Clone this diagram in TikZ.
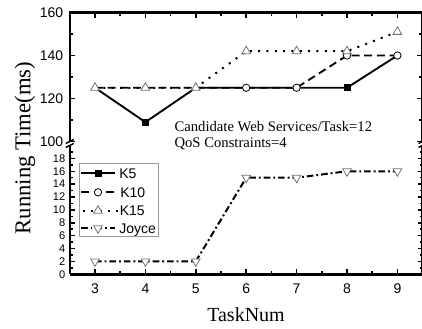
\documentclass[tikz,border=0pt]{standalone}
\usepackage{fontspec}
\setmainfont{Liberation Serif}
\setsansfont{Liberation Sans}
\usetikzlibrary{shapes.geometric}

\begin{document}
\begin{tikzpicture}[x=0.75pt,y=-0.75pt,
  axisline/.style={line width=1.7pt},
  tickmark/.style={line width=1.1pt},
  ticklab/.style={font=\sffamily\fontsize{10.5}{12}\selectfont, inner sep=0pt},
  smalllab/.style={font=\sffamily\fontsize{8.3}{8.3}\selectfont, inner sep=0pt, anchor=east},
  legtext/.style={font=\sffamily\fontsize{10.5}{12}\selectfont, inner sep=0pt, anchor=base west},
  note/.style={font=\fontsize{11}{13}\selectfont, inner sep=0pt, anchor=base west},
  k5line/.style={line width=1.4pt},
  k10line/.style={line width=1.4pt, dash pattern=on 6pt off 3.5pt},
  k15line/.style={line width=1.5pt, dash pattern=on 1.5pt off 4.75pt},
  joyceline/.style={line width=1.5pt, dash pattern=on 5pt off 2.2pt on 1.4pt off 2.2pt},
  sqmark/.style={rectangle, fill=black, minimum size=5.25pt, inner sep=0pt},
  circmark/.style={circle, draw=black, fill=white, line width=0.6pt, minimum size=5.5pt, inner sep=0pt},
  upmark/.style={regular polygon, regular polygon sides=3, draw=black!55, fill=white, line width=0.6pt, minimum size=7.5pt, inner sep=0pt},
  downmark/.style={upmark, shape border rotate=180},
]
\useasboundingbox (0,0) rectangle (422,329);

% ---------- frame (broken y axis) ----------
\draw[axisline, line width=2pt] (69.8,274.3) -- (422.6,274.3);
\draw[axisline] (69.8,274.3) -- (69.8,145.5);
\draw[axisline] (69.8,141.5) -- (69.8,12.5) -- (422.6,12.5) -- (422.6,141.5);
\draw[axisline] (422.6,145.5) -- (422.6,274.3);
% break marks
\foreach \bx in {69.8,422.6}{
  \draw[line width=1.1pt] (\bx-4,143.5) -- (\bx+4,139.5);
  \draw[line width=1.1pt] (\bx-4,147.5) -- (\bx+4,143.5);
}

% ---------- x ticks ----------
\foreach \t in {3,...,9}{
  \draw[tickmark] ({-56.2+50.4*\t},274.3) -- ++(0,-5.5);
  \draw[tickmark] ({-56.2+50.4*\t},12.5) -- ++(0,5.5);
  \node[ticklab] (xt\t) at ({-56.2+50.4*\t},288.3) {\t};
}
\foreach \t in {3.5,4.5,...,8.5}{
  \draw[tickmark] ({-56.2+50.4*\t},274.3) -- ++(0,-3);
  \draw[tickmark] ({-56.2+50.4*\t},12.5) -- ++(0,3);
}

% ---------- upper y ticks (100..160) ----------
\foreach \v in {100,120,140,160}{
  \draw[tickmark] (69.8,{356.5-2.15*\v}) -- ++(5.5,0);
  \draw[tickmark] (422.6,{356.5-2.15*\v}) -- ++(-5.5,0);
  \node[ticklab, anchor=east] (yu\v) at (63.5,{356.5-2.15*\v}) {\v};
}
\foreach \v in {110,130,150}{
  \draw[tickmark] (69.8,{356.5-2.15*\v}) -- ++(3.5,0);
  \draw[tickmark] (422.6,{356.5-2.15*\v}) -- ++(-3.5,0);
}

% ---------- lower y ticks (0..18) ----------
\foreach \v in {0,2,...,18}{
  \draw[tickmark] (69.8,{274.3-6.44*\v}) -- ++(5,0);
  \draw[tickmark] (422.6,{274.3-6.44*\v}) -- ++(-5,0);
  \node[smalllab] (yl\v) at (65.5,{274.3-6.44*\v}) {\v};
}
\foreach \v in {1,3,...,19}{
  \draw[tickmark] (69.8,{274.3-6.44*\v}) -- ++(3,0);
  \draw[tickmark] (422.6,{274.3-6.44*\v}) -- ++(-3,0);
}

% ---------- upper panel data ----------
\begin{scope}[x=37.8pt, y=1.6125pt, xshift=-42.15pt, yshift=-267.375pt]
  \foreach \t/\v in {3/125,4/109,5/125,6/125,7/125,8/125,9/140}
    \coordinate (k5-\t) at (\t,\v);
  \foreach \t/\v in {3/125,4/125,5/125,6/125,7/125,8/140,9/140}
    \coordinate (k10-\t) at (\t,\v);
  \foreach \t/\v in {3/125,4/125,5/125,6/142,7/142,8/142,9/151}
    \coordinate (k15-\t) at (\t,\v);
\end{scope}

% ---------- lower panel data ----------
\begin{scope}[x=37.8pt, y=4.83pt, xshift=-42.15pt, yshift=-205.725pt]
  \foreach \t/\v in {3/2,4/2,5/2,6/15,7/15,8/16,9/16}
    \coordinate (jy-\t) at (\t,\v);
\end{scope}

% series lines
\draw[k5line] (k5-3) -- (k5-4) -- (k5-5) -- (k5-6) -- (k5-7) -- (k5-8) -- (k5-9);
\draw[k10line] (k10-3) -- (k10-4) -- (k10-5) -- (k10-6) -- (k10-7) -- (k10-8) -- (k10-9);
\draw[k15line] (k15-3) -- (k15-4) -- (k15-5) -- (k15-6) -- (k15-7) -- (k15-8) -- (k15-9);
\draw[joyceline] (jy-3) -- (jy-4) -- (jy-5) -- (jy-6) -- (jy-7) -- (jy-8) -- (jy-9);

% series markers
\foreach \t in {4,8} \node[sqmark] (mk5-\t) at (k5-\t) {};
\foreach \t in {6,7,8,9} \node[circmark] (mk10-\t) at (k10-\t) {};
\foreach \t in {3,...,9} \node[upmark] (mk15-\t) at (k15-\t) {};
\foreach \t in {3,...,9} \node[downmark] (mjy-\t) at (jy-\t) {};

% ---------- legend ----------
\draw[draw=black!40, line width=0.5pt, fill=white] (79.3,163.3) rectangle (158,236.7);
\coordinate (lg1a) at (81,173.3);  \coordinate (lg1b) at (115,173.3);
\coordinate (lg2a) at (81,192.3);  \coordinate (lg2b) at (115,192.3);
\coordinate (lg3a) at (83,210.7);  \coordinate (lg3b) at (118,210.7);
\coordinate (lg4a) at (81,228.3);  \coordinate (lg4b) at (115,228.3);
\draw[k5line] (lg1a) -- (lg1b);
\draw[k10line] (lg2a) -- (lg2b);
\draw[k15line] (lg3a) -- (lg3b);
\draw[joyceline] (lg4a) -- (lg4b);
\node[sqmark] (lgm1) at (98,173.3) {};
\node[circmark] (lgm2) at (98,192.3) {};
\node[upmark] (lgm3) at (98,210.7) {};
\node[downmark] (lgm4) at (98,228.3) {};
\node[legtext] (lgt1) at (119,178.3) {K5};
\node[legtext] (lgt2) at (120,197.3) {K10};
\node[legtext] (lgt3) at (119.5,215.7) {K15};
\node[legtext] (lgt4) at (119,233.3) {Joyce};

% ---------- annotation and axis titles ----------
\node[note] (note1) at (174.3,131) {Candidate Web Services/Task=12};
\node[note] (note2) at (174.3,147) {QoS Constraints=4};
\node[rotate=90, inner sep=0pt, font=\fontsize{17}{17}\selectfont] (ytitle) at (25,148) {Running Time(ms)};
\node[inner sep=0pt, font=\fontsize{15}{15}\selectfont] (xtitle) at (246,315) {TaskNum};
\end{tikzpicture}
\end{document}
